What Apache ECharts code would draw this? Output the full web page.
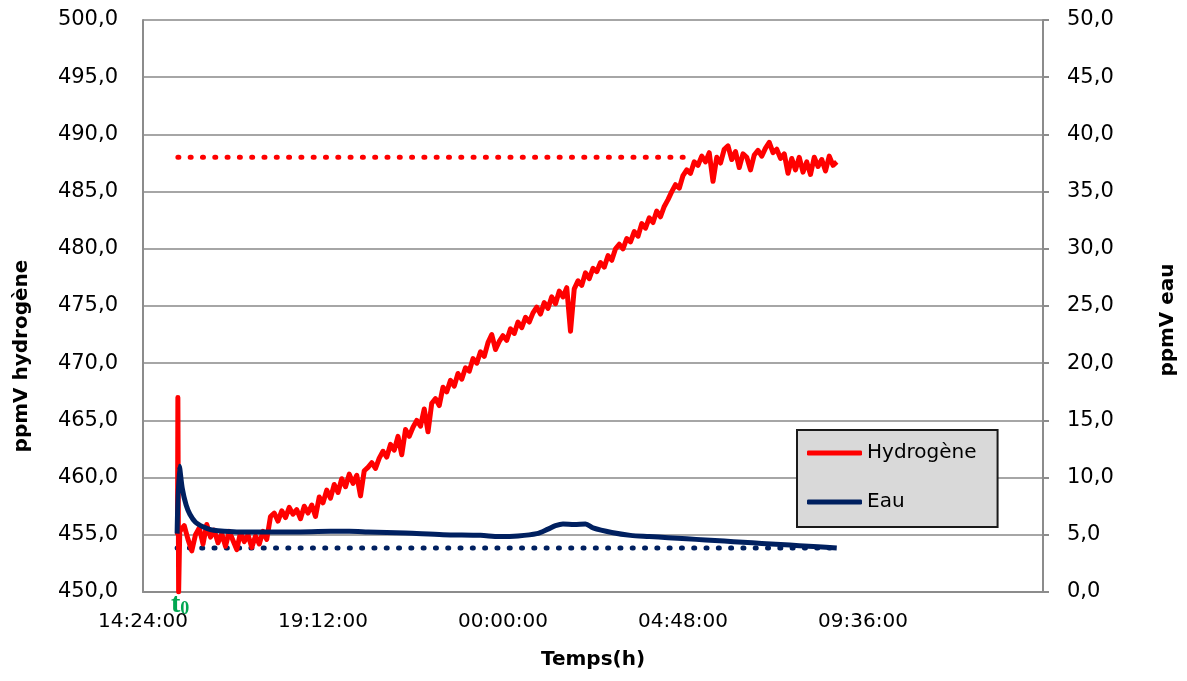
<!DOCTYPE html>
<html>
<head>
<meta charset="utf-8">
<script src="https://cdn.jsdelivr.net/npm/echarts@6/dist/echarts.min.js"></script>
<style>
html,body{margin:0;padding:0;background:#fff;}
#chart{width:1187px;height:681px;}
</style>
</head>
<body>
<div id="chart"></div>
<script>
// x values: hours elapsed since 14:24:00
const axisStartHour = 14.4;
const xTickStep = 4.8;
const xMax = 24;
const leftAxisMin = 450, leftAxisMax = 500, leftAxisStep = 5;
const rightAxisMin = 0, rightAxisMax = 50, rightAxisStep = 5;

const seriesNames = ['Hydrogène', 'Eau'];
const axisTitles = { x: 'Temps(h)', left: 'ppmV hydrogène', right: 'ppmV eau' };

// [elapsed hours, ppmV hydrogène]
const hydrogenPoints = [
  [0.92,455.0],[0.93,467.0],[0.95,450.0],[0.98,455.3],
  [1.0,455.2],[1.1,455.8],[1.2,454.6],[1.3,453.6],[1.4,455.0],[1.5,455.6],[1.6,454.2],[1.7,455.9],[1.8,454.8],[1.9,455.4],
  [2.0,454.3],[2.1,455.1],[2.2,454.0],[2.3,455.3],[2.4,454.5],[2.5,453.7],[2.6,455.2],[2.7,454.4],[2.8,455.0],[2.9,453.9],
  [3.0,454.9],[3.1,454.2],[3.2,455.3],[3.3,454.6],[3.4,456.6],[3.5,456.9],[3.6,456.2],[3.7,457.1],[3.8,456.5],[3.9,457.4],
  [4.0,456.8],[4.1,457.2],[4.2,456.4],[4.3,457.5],[4.4,456.9],[4.5,457.6],[4.6,456.6],[4.7,458.3],[4.8,457.8],[4.9,458.9],
  [5.0,458.2],[5.1,459.4],[5.2,458.7],[5.3,459.9],[5.4,459.2],[5.5,460.3],[5.6,459.5],[5.7,460.2],[5.8,458.4],[5.9,460.6],
  [6.0,460.9],[6.1,461.3],[6.2,460.8],[6.3,461.7],[6.4,462.3],[6.5,461.8],[6.6,462.9],[6.7,462.4],[6.8,463.6],[6.9,462.0],
  [7.0,464.2],[7.1,463.6],[7.2,464.4],[7.3,465.0],[7.4,464.5],[7.5,466.0],[7.6,464.0],[7.7,466.5],[7.8,466.9],[7.9,466.3],
  [8.0,467.9],[8.1,467.5],[8.2,468.5],[8.3,468.0],[8.4,469.1],[8.5,468.6],[8.6,469.6],[8.7,469.3],[8.8,470.4],[8.9,470.0],
  [9.0,471.0],[9.1,470.6],[9.2,471.8],[9.3,472.5],[9.4,471.2],[9.5,471.9],[9.6,472.4],[9.7,472.0],[9.8,473.0],[9.9,472.6],
  [10.0,473.6],[10.1,473.1],[10.2,474.0],[10.3,473.6],[10.4,474.4],[10.5,474.9],[10.6,474.3],[10.7,475.3],[10.8,474.8],[10.9,475.8],
  [11.0,475.2],[11.1,476.3],[11.2,475.8],[11.3,476.6],[11.4,472.8],[11.5,476.5],[11.6,477.2],[11.7,476.8],[11.8,477.9],[11.9,477.4],
  [12.0,478.3],[12.1,478.0],[12.2,478.8],[12.3,478.4],[12.4,479.4],[12.5,479.0],[12.6,480.0],[12.7,480.4],[12.8,480.0],[12.9,480.9],
  [13.0,480.6],[13.1,481.5],[13.2,481.1],[13.3,482.2],[13.4,481.8],[13.5,482.7],[13.6,482.3],[13.7,483.3],[13.8,482.8],[13.9,483.7],
  [14.0,484.3],[14.1,485.0],[14.2,485.6],[14.3,485.3],[14.4,486.4],[14.5,486.9],[14.6,486.6],[14.7,487.6],[14.8,487.3],[14.9,488.1],
  [15.0,487.6],[15.1,488.4],[15.2,485.9],[15.3,488.0],[15.4,487.5],[15.5,488.7],[15.6,489.0],[15.7,487.8],[15.8,488.5],[15.9,487.1],
  [16.0,488.3],[16.1,488.0],[16.2,486.9],[16.3,488.2],[16.4,488.6],[16.5,488.1],[16.6,488.8],[16.7,489.3],[16.8,488.4],[16.9,488.7],
  [17.0,487.9],[17.1,488.3],[17.2,486.6],[17.3,487.9],[17.4,486.9],[17.5,488.0],[17.6,486.7],[17.7,487.6],[17.8,486.5],[17.9,488.0],
  [18.0,487.2],[18.1,487.8],[18.2,486.8],[18.3,488.1],[18.4,487.3],[18.5,487.6]
];

// [elapsed hours, ppmV eau]
const waterPoints = [
  [0.91,5.1],[0.97,11.0],[1.05,9.0],[1.15,7.6],[1.25,6.8],[1.4,6.1],[1.6,5.7],[1.8,5.45],[2.0,5.35],
  [2.5,5.25],[3.0,5.25],[4.0,5.25],[5.0,5.3],[5.5,5.3],[6.0,5.25],[7.0,5.15],[8.0,5.0],[9.0,4.95],
  [9.5,4.85],[10.0,4.9],[10.5,5.1],[10.8,5.5],[11.0,5.8],[11.2,5.95],[11.5,5.9],[11.8,5.95],[12.0,5.6],
  [12.5,5.2],[13.0,4.95],[13.5,4.85],[14.0,4.75],[14.5,4.65],[15.0,4.55],[15.5,4.45],[16.0,4.35],
  [16.5,4.25],[17.0,4.15],[17.5,4.05],[18.0,3.95],[18.5,3.85]
];

// dotted reference levels
const hydrogenRef = [[0.93,488.0],[14.67,488.0]];
const waterRef = [[0.91,3.85],[18.45,3.85]];

const t0Hour = 0.93;

const RED = '#ff0000', NAVY = '#002060', GRID = '#a6a6a6', AXIS = '#8c8c8c';
const FONT = 'DejaVu Sans';

function fmtComma(v){ return v.toFixed(1).replace('.', ','); }
function fmtTime(v){
  let m = Math.round((axisStartHour + v) * 60) % 1440;
  const hh = Math.floor(m / 60), mm = m % 60;
  const p = n => (n < 10 ? '0' : '') + n;
  return p(hh) + ':' + p(mm) + ':00';
}

const chart = echarts.init(document.getElementById('chart'), null, {renderer: 'canvas'});

const option = {
  animation: false,
  backgroundColor: '#ffffff',
  grid: { left: 143, right: 144, top: 20, bottom: 89, containLabel: false, outerBoundsMode: 'none' },
  legend: {
    data: [
      { name: seriesNames[0], icon: 'roundRect' },
      { name: seriesNames[1], icon: 'roundRect' }
    ],
    orient: 'vertical',
    left: 797, top: 430,
    padding: [11, 21, 13, 10],
    itemGap: 25,
    itemWidth: 55, itemHeight: 5,
    backgroundColor: '#d9d9d9',
    borderColor: '#1a1a1a', borderWidth: 2, borderRadius: 0,
    textStyle: { fontFamily: FONT, fontSize: 20, color: '#000', lineHeight: 24 }
  },
  xAxis: {
    type: 'value', min: 0, max: xMax, interval: xTickStep,
    name: axisTitles.x, nameLocation: 'middle', nameGap: 58,
    nameTextStyle: { fontFamily: FONT, fontSize: 20, fontWeight: 'bold', color: '#000' },
    axisLine: { show: true, onZero: false, lineStyle: { color: AXIS, width: 2 } },
    axisTick: { show: false },
    splitLine: { show: false },
    axisLabel: { formatter: fmtTime, showMaxLabel: false, showMinLabel: true, margin: 20,
      fontFamily: FONT, fontSize: 20, color: '#000' }
  },
  yAxis: [
    {
      type: 'value', min: leftAxisMin, max: leftAxisMax, interval: leftAxisStep, position: 'left',
      axisLine: { show: true, lineStyle: { color: AXIS, width: 2 } },
      axisTick: { show: false },
      splitLine: { show: true, lineStyle: { color: GRID, width: 2 } },
      axisLabel: { formatter: fmtComma, margin: 25, fontFamily: FONT, fontSize: 21, color: '#000' }
    },
    {
      type: 'value', min: rightAxisMin, max: rightAxisMax, interval: rightAxisStep, position: 'right',
      axisLine: { show: true, lineStyle: { color: AXIS, width: 2 } },
      axisTick: { show: true, inside: false, length: 6, lineStyle: { color: AXIS, width: 2 } },
      splitLine: { show: false },
      axisLabel: { formatter: fmtComma, margin: 24, fontFamily: FONT, fontSize: 21, color: '#000' }
    }
  ],
  series: [
    {
      name: 'refH2', type: 'line', yAxisIndex: 0, data: hydrogenRef, showSymbol: false, symbol: 'none',
      lineStyle: { color: RED, width: 5, type: [1, 11.3], cap: 'round' }, silent: true, z: 1
    },
    {
      name: 'refEau', type: 'line', yAxisIndex: 1, data: waterRef, showSymbol: false, symbol: 'none',
      lineStyle: { color: NAVY, width: 5, type: [1, 11.3], cap: 'round' }, silent: true, z: 1
    },
    {
      name: seriesNames[0], type: 'line', yAxisIndex: 0, data: hydrogenPoints, showSymbol: false, symbol: 'none',
      itemStyle: { color: RED }, lineStyle: { color: RED, width: 5, join: 'round' }, z: 2
    },
    {
      name: seriesNames[1], type: 'line', yAxisIndex: 1, data: waterPoints, showSymbol: false, symbol: 'none',
      smooth: 0.3,
      itemStyle: { color: NAVY }, lineStyle: { color: NAVY, width: 5, join: 'round' }, z: 3
    }
  ]
};
chart.setOption(option);

// axis titles (vertical) and t0 marker placed from axis coordinates
const pLeft = chart.convertToPixel({ yAxisIndex: 0 }, 475);
const t0px = chart.convertToPixel({ xAxisIndex: 0, yAxisIndex: 0 }, [t0Hour, leftAxisMin]);
chart.setOption({
  graphic: [
    {
      type: 'text', x: 22, y: 356, rotation: Math.PI / 2,
      style: { text: axisTitles.left, align: 'center', verticalAlign: 'middle',
        fontFamily: FONT, fontSize: 20, fontWeight: 'bold', fill: '#000' }
    },
    {
      type: 'text', x: 1168, y: 320, rotation: Math.PI / 2,
      style: { text: axisTitles.right, align: 'center', verticalAlign: 'middle',
        fontFamily: FONT, fontSize: 20, fontWeight: 'bold', fill: '#000' }
    },
    {
      type: 'text', x: t0px[0] - 7, y: t0px[1] - 1,
      style: {
        text: '{a|t}{b|0}',
        rich: {
          a: { fontFamily: 'Liberation Serif', fontWeight: 'bold', fontSize: 28, fill: '#00a651', lineHeight: 26, verticalAlign: 'top' },
          b: { fontFamily: 'Liberation Serif', fontWeight: 'bold', fontSize: 18, fill: '#00a651', lineHeight: 26, padding: [10, 0, 0, 0] }
        }
      }
    }
  ]
});
</script>
</body>
</html>
